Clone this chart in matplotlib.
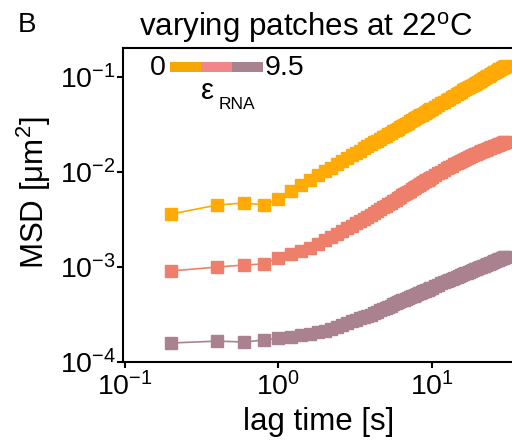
import matplotlib
matplotlib.use("Agg")
import matplotlib.pyplot as plt
import numpy as np
from matplotlib.patches import Rectangle

plt.rcParams['font.family'] = ['Liberation Sans', 'DejaVu Sans']
plt.rcParams['mathtext.fontset'] = 'custom'
plt.rcParams['mathtext.rm'] = 'Liberation Sans'
plt.rcParams['mathtext.it'] = 'Liberation Sans:italic'
plt.rcParams['mathtext.bf'] = 'Liberation Sans:bold'
plt.rcParams['axes.unicode_minus'] = False

# lag times [s]
lag_time = [0.2, 0.4, 0.6, 0.8, 1.0, 1.2, 1.4, 1.6, 1.8, 2.0,
            2.2, 2.4, 2.6, 2.8, 3.0, 3.2, 3.4, 3.6, 3.8, 4.0,
            4.2, 4.4, 4.6, 4.8, 5.0, 5.2, 5.4, 5.6, 5.8, 6.0,
            6.2, 6.4, 6.6, 6.8, 7.0, 7.2, 7.4, 7.6, 7.8, 8.0,
            8.2, 8.4, 8.6, 8.8, 9.0, 9.2, 9.4, 9.6, 9.8, 10.0,
            10.5, 11.0, 11.5, 12.0, 12.5, 13.0, 13.5, 14.0, 14.5, 15.0,
            15.5, 16.0, 16.5, 17.0, 17.5, 18.0, 18.5, 19.0, 19.5, 20.0,
            20.5, 21.0, 21.5, 22.0, 22.5, 23.0, 23.5, 24.0, 24.5, 25.0,
            25.5, 26.0, 26.5, 27.0, 27.5, 28.0, 28.5, 29.0, 29.5, 30.0]

# log10(MSD [um^2])
log_msd_eps0 = [-2.442, -2.347, -2.326, -2.347, -2.284, -2.200, -2.137, -2.082, -2.034, -1.991,
                -1.953, -1.917, -1.884, -1.854, -1.826, -1.799, -1.775, -1.751, -1.729, -1.708,
                -1.688, -1.670, -1.651, -1.634, -1.617, -1.601, -1.586, -1.571, -1.557, -1.543,
                -1.530, -1.516, -1.503, -1.491, -1.480, -1.468, -1.457, -1.446, -1.436, -1.425,
                -1.415, -1.405, -1.396, -1.387, -1.377, -1.368, -1.359, -1.351, -1.342, -1.334,
                -1.314, -1.295, -1.277, -1.260, -1.243, -1.227, -1.212, -1.197, -1.183, -1.169,
                -1.155, -1.142, -1.130, -1.118, -1.106, -1.094, -1.083, -1.072, -1.061, -1.051,
                -1.041, -1.031, -1.022, -1.013, -1.003, -0.994, -0.985, -0.977, -0.968, -0.960,
                -0.951, -0.944, -0.936, -0.929, -0.921, -0.914, -0.906, -0.900, -0.892, -0.886]

log_msd_eps_mid = [-3.042, -3.000, -2.979, -2.968, -2.905, -2.863, -2.832, -2.800, -2.758, -2.720,
                   -2.684, -2.650, -2.620, -2.591, -2.565, -2.539, -2.515, -2.492, -2.470, -2.450,
                   -2.429, -2.410, -2.390, -2.373, -2.355, -2.338, -2.322, -2.306, -2.290, -2.275,
                   -2.261, -2.247, -2.233, -2.220, -2.208, -2.196, -2.184, -2.172, -2.161, -2.150,
                   -2.139, -2.129, -2.119, -2.109, -2.099, -2.089, -2.080, -2.070, -2.061, -2.052,
                   -2.032, -2.013, -1.995, -1.978, -1.961, -1.945, -1.932, -1.919, -1.907, -1.895,
                   -1.883, -1.872, -1.862, -1.852, -1.842, -1.833, -1.823, -1.814, -1.806, -1.797,
                   -1.790, -1.784, -1.777, -1.771, -1.764, -1.758, -1.752, -1.746, -1.741, -1.735,
                   -1.729, -1.724, -1.719, -1.714, -1.708, -1.703, -1.698, -1.693, -1.688, -1.684]

log_msd_eps95 = [-3.800, -3.780, -3.790, -3.768, -3.747, -3.737, -3.716, -3.700, -3.685, -3.672,
                 -3.649, -3.627, -3.607, -3.588, -3.570, -3.554, -3.540, -3.526, -3.512, -3.500,
                 -3.485, -3.470, -3.456, -3.443, -3.430, -3.418, -3.406, -3.394, -3.383, -3.372,
                 -3.362, -3.352, -3.343, -3.333, -3.325, -3.317, -3.308, -3.300, -3.292, -3.285,
                 -3.277, -3.271, -3.264, -3.257, -3.250, -3.243, -3.237, -3.230, -3.224, -3.218,
                 -3.203, -3.188, -3.173, -3.160, -3.147, -3.135, -3.124, -3.114, -3.104, -3.093,
                 -3.084, -3.075, -3.067, -3.058, -3.050, -3.042, -3.034, -3.026, -3.019, -3.012,
                 -3.005, -2.998, -2.992, -2.985, -2.978, -2.972, -2.966, -2.960, -2.954, -2.948,
                 -2.941, -2.936, -2.930, -2.924, -2.918, -2.912, -2.906, -2.901, -2.895, -2.890]

series = [log_msd_eps0, log_msd_eps_mid, log_msd_eps95]
colors = ['#FFAA05', '#EE7F6B', '#AA828F']
bar_colors = ['#F5A800', '#F0868A', '#A8828F']

fig = plt.figure(figsize=(5.12, 4.44), dpi=100)
ax = fig.add_axes([123/512, (444-362)/444, (515-123)/512, (362-48)/444])

for vals, c in zip(series, colors):
    ax.plot(lag_time, 10.0 ** np.array(vals), marker='s', ms=8.4, color=c,
            mec=c, lw=1.2, ls='-')

ax.set_xscale('log')
ax.set_yscale('log')
ax.set_xlim(0.097, 10 ** (1 + 83/153))
ax.set_ylim(1e-4, 10 ** (-1 + 29/95))
ax.minorticks_off()
ax.set_xticks([0.1, 1, 10])
ax.set_yticks([1e-4, 1e-3, 1e-2, 1e-1])
ax.set_xticklabels(['$10^{-1}$', '$10^{0}$', '$10^{1}$'])
ax.set_yticklabels(['$10^{-4}$', '$10^{-3}$', '$10^{-2}$', '$10^{-1}$'])
ax.tick_params(axis='both', which='major', direction='out', length=4, width=1.5,
               labelsize=20.5)
ax.tick_params(axis='y', pad=1)
ax.tick_params(axis='x', pad=3)
for s in ax.spines.values():
    s.set_linewidth(1.5)

fig.text(319/512, 1 - 422/444, 'lag time [s]', ha='center', va='center', fontsize=22.5)
fig.text(34/512, 1 - 193/444, 'MSD [μm$^2$]', ha='center', va='center',
         rotation=90, fontsize=22.5)
fig.text(306/512, 1 - 28/444, 'varying patches at 22$^{\\mathrm{o}}$C', ha='center',
         va='center', fontsize=22.5)
fig.text(27/512, 1 - 25/444, 'B', ha='center', va='center', fontsize=20)

# epsilon colour legend
x0 = 170/512
w = 31/512
for i, c in enumerate(bar_colors):
    fig.patches.append(Rectangle((x0 + i*w, 1 - 72/444), w, 10/444,
                                 transform=fig.transFigure, color=c, lw=0))
fig.text(158/512, 1 - 68/444, '0', ha='center', va='center', fontsize=20.5)
fig.text(265/512, 1 - 68/444, '9.5', ha='left', va='center', fontsize=20.5)
fig.text(201/512, 1 - 91/444, 'ε', ha='left', va='center', fontsize=21)
fig.text(219/512, 1 - 104/444, 'RNA', ha='left', va='center', fontsize=12.5)

fig.savefig('out.png', dpi=100)
